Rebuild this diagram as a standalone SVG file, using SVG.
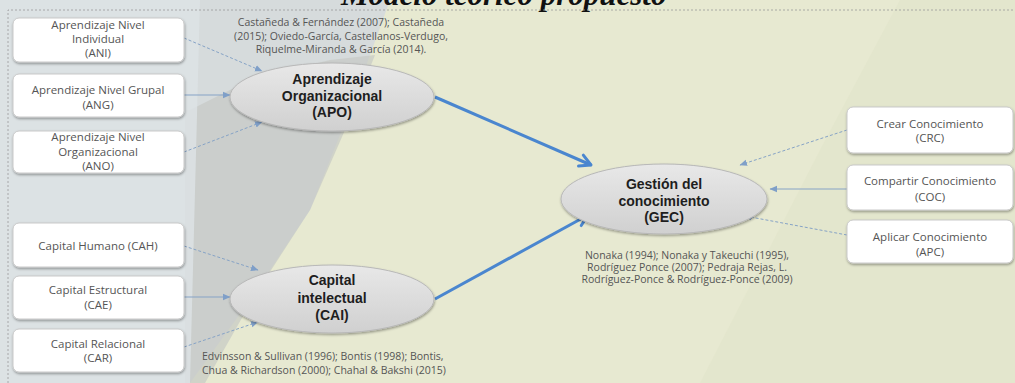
<svg xmlns="http://www.w3.org/2000/svg" width="1015" height="383" viewBox="0 0 1015 383">
  <defs>
    <style>
      .box { fill: #ffffff; stroke: #c9c9c9; stroke-width: 1; filter: url(#shadow); }
      .btxt { font-family: "Open Sans", "Liberation Sans", sans-serif; font-size: 11.5px; fill: #555555; text-anchor: middle; }
      .ell { fill: url(#ellgrad); stroke: #b8b8b8; stroke-width: 1; filter: url(#shadow); }
      .etxt { font-family: "Liberation Sans", Arial, sans-serif; font-size: 14px; font-weight: bold; fill: #1e1e1e; text-anchor: middle; }
      .cite { font-family: "Open Sans", "Liberation Sans", sans-serif; font-size: 10.5px; fill: #555555; }
      .thin { stroke: #86a3c6; stroke-width: 1; fill: none; stroke-dasharray: 3 2; marker-end: url(#sarrow); }
      .thinsolid { stroke: #86a3c6; stroke-width: 1; fill: none; marker-end: url(#sarrow); }
      .thick { stroke: #4a86cf; stroke-width: 3; fill: none; marker-end: url(#barrow); }
      .title { font-family: "Liberation Serif", serif; font-size: 31px; font-weight: bold; font-style: italic; fill: #111111; }
    </style>
    <linearGradient id="ellgrad" x1="0" y1="0" x2="0" y2="1">
      <stop offset="0" stop-color="#e8e8e8"/>
      <stop offset="1" stop-color="#d0d0d0"/>
    </linearGradient>
    <filter id="shadow" x="-10%" y="-20%" width="120%" height="150%">
      <feDropShadow dx="0.5" dy="1.5" stdDeviation="1.2" flood-color="#000000" flood-opacity="0.35"/>
    </filter>
    <marker id="sarrow" markerUnits="userSpaceOnUse" markerWidth="8" markerHeight="8" viewBox="0 0 8 8" refX="7" refY="4" orient="auto">
      <path d="M0,0.8 L7.5,4 L0,7.2 Z" fill="#7f9fc8"/>
    </marker>
    <marker id="barrow" markerUnits="userSpaceOnUse" markerWidth="16" markerHeight="16" viewBox="0 0 16 16" refX="14" refY="8" orient="auto">
      <path d="M3,2 L14,8 L3,14" fill="none" stroke="#4a86cf" stroke-width="3" stroke-linecap="round" stroke-linejoin="round"/>
    </marker>
  </defs>

  <!-- background -->
  <g id="background">
    <rect x="0" y="0" width="1015" height="383" fill="#e7e9d1"/>
    <path d="M0,0 L390,0 L350,110 L310,210 L250,300 L190,383 L0,383 Z" fill="#d6dbdc"/>
    <path d="M190,110 L250,80 L330,60 L375,55 L345,130 L310,210 L255,295 L205,383 L185,383 L185,110 Z" fill="#c6c9c5" opacity="0.7"/>
    <path d="M0,0 L200,0 L190,383 L0,383 Z" fill="#dde3e6" opacity="0.8"/>
    <path d="M700,383 L820,150 L900,0 L1015,0 L1015,383 Z" fill="#e1e5c9" opacity="0.6"/>
  </g>

  <!-- title -->
  <text class="title" x="341" y="5">Modelo teórico propuesto</text>

  <!-- dashed frame -->
  <path d="M8,383 L8,10 L1015,10" fill="none" stroke="#9a9a9a" stroke-width="0.8" stroke-dasharray="2 2"/>

  <!-- connectors -->
  <g id="connectors">
    <line class="thin" x1="184" y1="38" x2="262" y2="71"/>
    <line class="thinsolid" x1="184" y1="95" x2="230" y2="95"/>
    <line class="thin" x1="184" y1="152" x2="262" y2="122"/>
    <line class="thin" x1="184" y1="246" x2="258" y2="270"/>
    <line class="thinsolid" x1="184" y1="297" x2="230" y2="297"/>
    <line class="thin" x1="184" y1="347" x2="258" y2="322"/>
    <line class="thin" x1="847" y1="130" x2="740" y2="165"/>
    <line class="thinsolid" x1="847" y1="189" x2="770" y2="189"/>
    <line class="thin" x1="847" y1="235" x2="745" y2="216"/>
    <line class="thick" x1="435" y1="97" x2="591" y2="165"/>
    <line class="thick" x1="435" y1="299" x2="588" y2="215"/>
  </g>

  <!-- left boxes -->
  <g id="ANI">
    <rect class="box" x="13" y="18" width="171" height="44" rx="6"/>
    <text class="btxt" x="98" y="29">Aprendizaje Nivel</text>
    <text class="btxt" x="98" y="43">Individual</text>
    <text class="btxt" x="98" y="57">(ANI)</text>
  </g>
  <g id="ANG">
    <rect class="box" x="13" y="74" width="171" height="43" rx="6"/>
    <text class="btxt" x="98" y="94">Aprendizaje Nivel Grupal</text>
    <text class="btxt" x="98" y="109">(ANG)</text>
  </g>
  <g id="ANO">
    <rect class="box" x="13" y="131" width="171" height="42" rx="6"/>
    <text class="btxt" x="98" y="141">Aprendizaje Nivel</text>
    <text class="btxt" x="98" y="156">Organizacional</text>
    <text class="btxt" x="98" y="170">(ANO)</text>
  </g>
  <g id="CAH">
    <rect class="box" x="13" y="223" width="171" height="44" rx="6"/>
    <text class="btxt" x="98" y="250">Capital Humano (CAH)</text>
  </g>
  <g id="CAE">
    <rect class="box" x="13" y="276" width="171" height="43" rx="6"/>
    <text class="btxt" x="98" y="294">Capital Estructural</text>
    <text class="btxt" x="98" y="309">(CAE)</text>
  </g>
  <g id="CAR">
    <rect class="box" x="13" y="329" width="171" height="43" rx="6"/>
    <text class="btxt" x="98" y="348">Capital Relacional</text>
    <text class="btxt" x="98" y="362">(CAR)</text>
  </g>

  <!-- ellipses -->
  <g id="APO">
    <ellipse class="ell" cx="332" cy="97" rx="102" ry="34"/>
    <text class="etxt" x="332" y="84">Aprendizaje</text>
    <text class="etxt" x="332" y="100.5">Organizacional</text>
    <text class="etxt" x="332" y="117">(APO)</text>
  </g>
  <g id="CAI">
    <ellipse class="ell" cx="332" cy="299" rx="102" ry="34"/>
    <text class="etxt" x="332" y="285">Capital</text>
    <text class="etxt" x="332" y="302.5">intelectual</text>
    <text class="etxt" x="332" y="320">(CAI)</text>
  </g>
  <g id="GEC">
    <ellipse class="ell" cx="664" cy="199" rx="103" ry="35"/>
    <text class="etxt" x="664" y="189">Gestión del</text>
    <text class="etxt" x="664" y="205.5">conocimiento</text>
    <text class="etxt" x="664" y="222">(GEC)</text>
  </g>

  <!-- right boxes -->
  <g id="CRC">
    <rect class="box" x="847" y="107" width="166" height="46" rx="6"/>
    <text class="btxt" x="930" y="128">Crear Conocimiento</text>
    <text class="btxt" x="930" y="142">(CRC)</text>
  </g>
  <g id="COC">
    <rect class="box" x="847" y="165" width="166" height="45" rx="6"/>
    <text class="btxt" x="930" y="185">Compartir Conocimiento</text>
    <text class="btxt" x="930" y="201">(COC)</text>
  </g>
  <g id="APC">
    <rect class="box" x="847" y="220" width="166" height="43" rx="6"/>
    <text class="btxt" x="930" y="241">Aplicar Conocimiento</text>
    <text class="btxt" x="930" y="256">(APC)</text>
  </g>

  <!-- citations -->
  <g id="citations">
    <text class="cite" text-anchor="middle" x="341" y="26">Castañeda &amp; Fernández (2007); Castañeda</text>
    <text class="cite" text-anchor="middle" x="341" y="40">(2015); Oviedo-García, Castellanos-Verdugo,</text>
    <text class="cite" text-anchor="middle" x="341" y="53">Riquelme-Miranda &amp; García (2014).</text>
    <text class="cite" x="202" y="360">Edvinsson &amp; Sullivan (1996); Bontis (1998); Bontis,</text>
    <text class="cite" x="202" y="374">Chua &amp; Richardson (2000); Chahal &amp; Bakshi (2015)</text>
    <text class="cite" text-anchor="middle" x="687" y="259">Nonaka (1994); Nonaka y Takeuchi (1995),</text>
    <text class="cite" text-anchor="middle" x="687" y="271">Rodríguez Ponce (2007); Pedraja Rejas, L.</text>
    <text class="cite" text-anchor="middle" x="687" y="283">Rodríguez-Ponce &amp; Rodríguez-Ponce (2009)</text>
  </g>
</svg>
